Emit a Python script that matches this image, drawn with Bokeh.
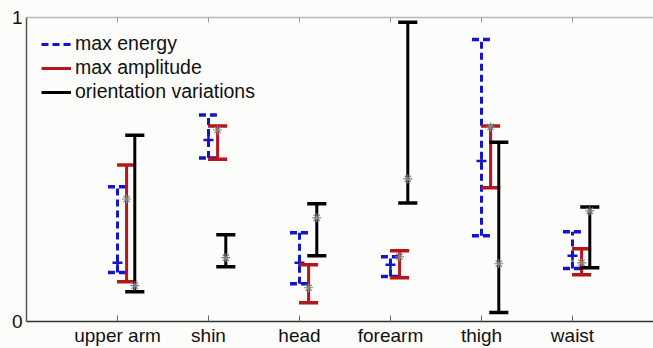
from bokeh.plotting import figure
from bokeh.models import Range1d, FixedTicker, LinearAxis, ColumnDataSource
from bokeh.embed import file_html
from bokeh.resources import INLINE

categories = ["upper arm", "shin", "head", "forearm", "thigh", "waist"]
positions = [1, 2, 3, 4, 5, 6]

energy_low = [0.161, 0.538, 0.124, 0.148, 0.282, 0.174]
energy_high = [0.443, 0.679, 0.292, 0.213, 0.928, 0.295]
energy_mid = [0.193, 0.597, 0.193, 0.187, 0.528, 0.216]

amp_low = [0.131, 0.534, 0.062, 0.144, 0.440, 0.154]
amp_high = [0.515, 0.643, 0.187, 0.233, 0.643, 0.239]
amp_mid = [0.403, 0.630, 0.111, 0.213, 0.640, 0.193]

orient_low = [0.098, 0.180, 0.216, 0.390, 0.030, 0.177]
orient_high = [0.613, 0.285, 0.387, 0.984, 0.590, 0.377]
orient_mid = [0.118, 0.210, 0.341, 0.469, 0.190, 0.364]

BLUE = "#1414c8"
RED = "#b5161b"
BLACK = "#000000"
STAR = "#808080"
FONT = "Liberation Sans"
BG = "#fcfcfa"

W = 653
p = figure(width=W, height=348, output_backend="svg", toolbar_location=None,
           x_range=Range1d(0, (W - 26) / 91.0), y_range=Range1d(0, 1),
           min_border_left=26, min_border_top=17, min_border_right=0, min_border_bottom=26,
           background_fill_color=BG, border_fill_color=BG)
p.outline_line_color = None
p.xgrid.visible = False
p.ygrid.visible = False

xa = p.xaxis[0]
xa.ticker = FixedTicker(ticks=positions)
xa.major_label_overrides = {pos: name for pos, name in zip(positions, categories)}
xa.major_tick_in = 6
xa.major_tick_out = 0
xa.minor_tick_line_color = None
xa.axis_line_color = "#333333"
xa.axis_line_width = 1.5
xa.major_tick_line_color = "#666666"
xa.major_label_text_font = FONT
xa.major_label_text_font_size = "19px"
xa.major_label_text_color = "#111111"
xa.major_label_standoff = 3

ya = p.yaxis[0]
ya.ticker = FixedTicker(ticks=[0, 1])
ya.major_tick_in = 0
ya.major_tick_out = 0
ya.minor_tick_line_color = None
ya.axis_line_color = "#555555"
ya.axis_line_width = 1.5
ya.major_label_text_font = FONT
ya.major_label_text_font_size = "19px"
ya.major_label_text_color = "#111111"
ya.major_label_standoff = 4

top = LinearAxis(ticker=FixedTicker(ticks=positions))
top.major_label_text_color = None
top.major_label_text_font_size = "1px"
top.major_label_standoff = 0
top.major_tick_in = 5
top.major_tick_out = 0
top.minor_tick_line_color = None
top.axis_line_color = "#b8b8b8"
top.axis_line_width = 1.5
top.major_tick_line_color = "#999999"
p.add_layout(top, "above")

HALF = 0.105
series = [
    ("max energy", 0.0, energy_low, energy_high, energy_mid, BLUE, "7 4", "cross"),
    ("max amplitude", 0.1, amp_low, amp_high, amp_mid, RED, "solid", "asterisk"),
    ("orientation variations", 0.19, orient_low, orient_high, orient_mid, BLACK, "solid", "asterisk"),
]

for label, off, lo, hi, mid, color, dash, marker in series:
    xs = [x + off for x in positions]
    src = ColumnDataSource(dict(x=xs, x0=[x - HALF for x in xs], x1=[x + HALF for x in xs],
                                lo=lo, hi=hi, mid=mid))
    p.segment(x0="x", y0="lo", x1="x", y1="hi", source=src, line_color=color,
              line_width=3, line_dash=dash, legend_label=label)
    p.segment(x0="x0", y0="lo", x1="x1", y1="lo", source=src, line_color=color,
              line_width=3.5, line_dash=dash)
    p.segment(x0="x0", y0="hi", x1="x1", y1="hi", source=src, line_color=color,
              line_width=3.5, line_dash=dash)
    if marker == "cross":
        p.scatter(x="x", y="mid", source=src, marker="cross", size=10,
                  line_color=color, line_width=2.5)
    else:
        p.scatter(x="x", y="mid", source=src, marker="asterisk", size=9,
                  line_color=STAR, line_width=1.2)

lg = p.legend[0]
lg.location = "top_left"
lg.margin = 15
lg.padding = 0
lg.spacing = 1
lg.border_line_color = None
lg.background_fill_alpha = 0
lg.glyph_width = 30
lg.glyph_height = 20
lg.label_height = 20
lg.label_standoff = 4
lg.label_text_font = FONT
lg.label_text_font_size = "19.5px"
lg.label_text_color = "#111111"

open("out.html", "w").write(file_html(p, INLINE))
